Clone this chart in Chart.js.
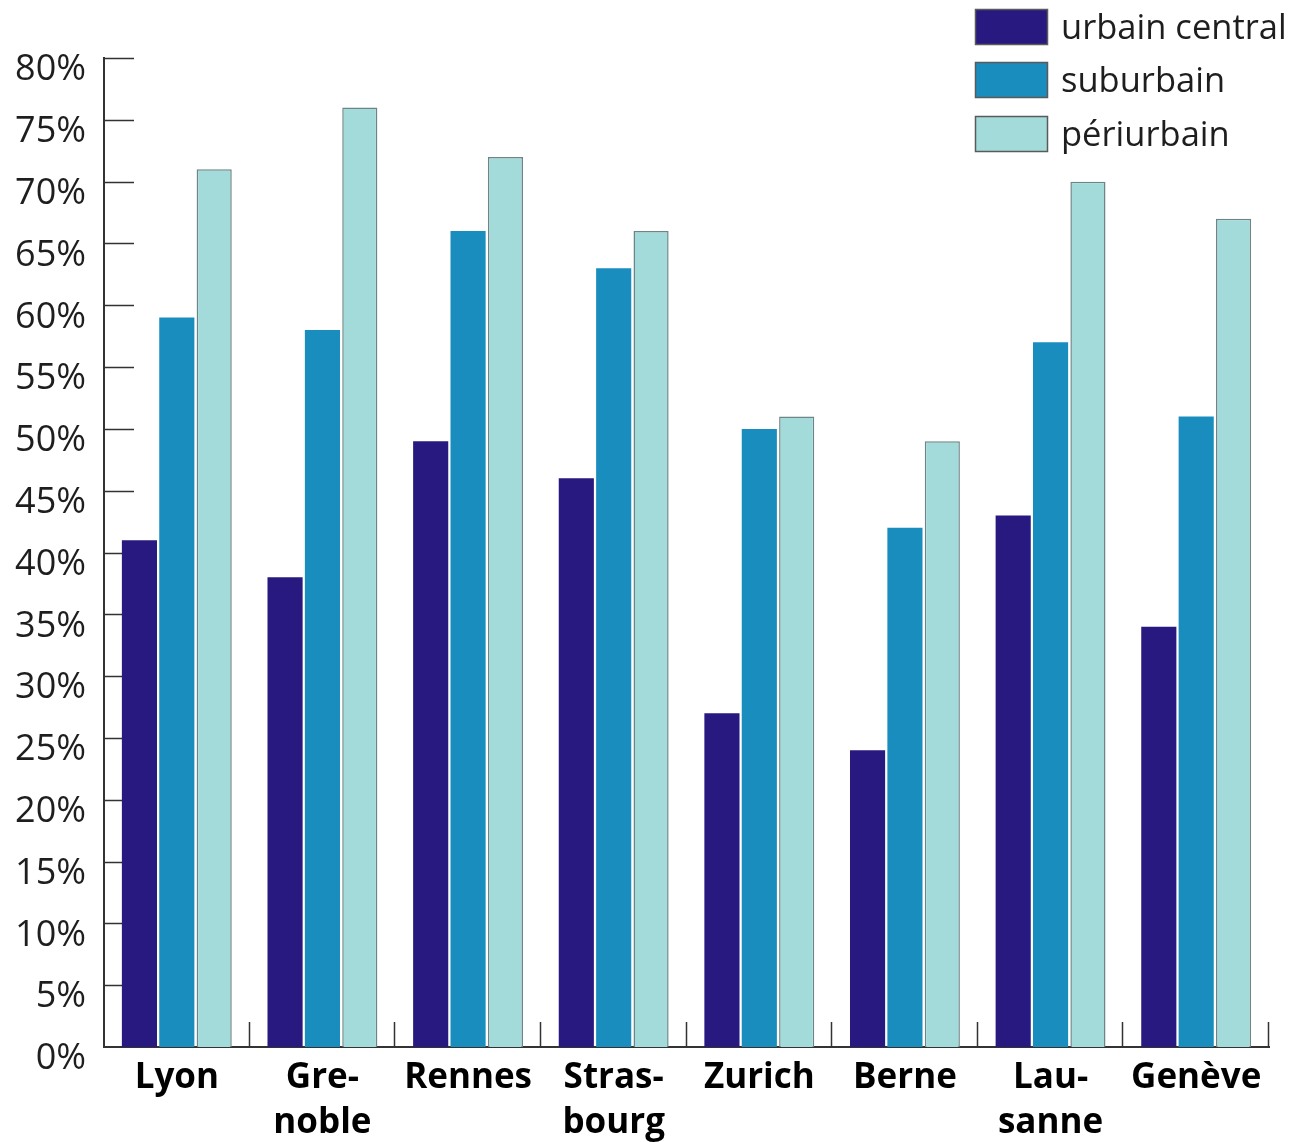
<!DOCTYPE html>
<html>
<head>
<meta charset="utf-8">
<style>
  html, body { margin: 0; padding: 0; background: #ffffff; }
  #wrap { width: 1295px; height: 1142px; }
</style>
<script src="https://cdn.jsdelivr.net/npm/chart.js@4/dist/chart.umd.min.js"></script>
</head>
<body>
<div id="wrap"><canvas id="c" width="1295" height="1142"></canvas></div>
<script>
// Share of residents per area type, by agglomeration
const cities = [["Lyon"], ["Gre-", "noble"], ["Rennes"], ["Stras-", "bourg"], ["Zurich"], ["Berne"], ["Lau-", "sanne"], ["Genève"]];
const seriesNames = ["urbain central", "suburbain", "périurbain"];
const urbainCentral = [41, 38, 49, 46, 27, 24, 43, 34];
const suburbain = [59, 58, 66, 63, 50, 42, 57, 51];
const periurbain = [71, 76, 72, 66, 51, 49, 70, 67];
const yTicks = [0, 5, 10, 15, 20, 25, 30, 35, 40, 45, 50, 55, 60, 65, 70, 75, 80];

const colors = ["#27197f", "#1a8dbf", "#a3dbdb"];
const borders = ["#27197f", "#1a8dbf", "#6e8588"];
const axisColor = "#333333";

// Inward tick marks on both axes
const axisMarks = {
  id: "axisMarks",
  beforeDatasetsDraw(chart) {
    const ctx = chart.ctx;
    const x = chart.scales.x, y = chart.scales.y;
    ctx.save();
    ctx.strokeStyle = axisColor;
    ctx.lineWidth = 1.5;
    ctx.beginPath();
    yTicks.forEach(v => {
      if (v === 0) return;
      const py = Math.round(y.getPixelForValue(v)) + 0.5;
      ctx.moveTo(x.left, py);
      ctx.lineTo(x.left + 30, py);
    });
    const step = (x.right - x.left) / cities.length;
    for (let i = 1; i <= cities.length; i++) {
      const px = Math.round(x.getPixelForValue(i - 1) + step / 2) - 0.5;
      ctx.moveTo(px, y.bottom);
      ctx.lineTo(px, y.bottom - 25);
    }
    ctx.stroke();
    ctx.restore();
  }
};

// Stacked legend in the top-right corner
const boxLegend = {
  id: "boxLegend",
  afterDraw(chart) {
    const ctx = chart.ctx;
    ctx.save();
    ctx.font = "34.5px 'Open Sans', sans-serif";
    ctx.textBaseline = "middle";
    const tops = [9, 62, 116];
    chart.data.datasets.forEach((ds, i) => {
      const bx = 975, by = tops[i], bw = 73, bh = 36;
      ctx.fillStyle = ds.backgroundColor;
      ctx.fillRect(bx, by, bw, bh);
      ctx.strokeStyle = "#5a5a5a";
      ctx.lineWidth = 1.5;
      ctx.strokeRect(bx + 0.5, by + 0.5, bw - 1, bh - 1);
      ctx.fillStyle = "#1e1e1e";
      ctx.fillText(ds.label, 1061, by + bh / 2 + 2);
    });
    ctx.restore();
  }
};

const seriesData = [urbainCentral, suburbain, periurbain];

new Chart(document.getElementById("c"), {
  type: "bar",
  data: {
    labels: cities,
    datasets: seriesNames.map((name, i) => ({
      label: name,
      data: seriesData[i],
      backgroundColor: colors[i],
      borderColor: borders[i],
      borderWidth: i === 2 ? 1.5 : 0,
      categoryPercentage: 0.77,
      barPercentage: 0.94
    }))
  },
  options: {
    responsive: false,
    animation: false,
    devicePixelRatio: 1,
    layout: { padding: { top: 58, right: 26, left: 0, bottom: 0 } },
    plugins: { legend: { display: false }, tooltip: { enabled: false } },
    scales: {
      x: {
        grid: { display: false, drawTicks: false },
        border: { display: true, color: axisColor, width: 2 },
        ticks: {
          color: "#000000",
          padding: 8,
          maxRotation: 0,
          autoSkip: false,
          font: { family: "'Open Sans', sans-serif", size: 35, weight: "bold", lineHeight: 1.3 }
        },
        afterFit(scale) { scale.height = 95; }
      },
      y: {
        min: 0,
        max: 80,
        afterBuildTicks(scale) { scale.ticks = yTicks.map(v => ({ value: v })); },
        grid: { display: false, drawTicks: false },
        border: { display: true, color: axisColor, width: 2 },
        ticks: {
          color: "#1e1e1e",
          padding: 18,
          labelOffset: 12,
          font: { family: "'Open Sans', sans-serif", size: 36 },
          callback: v => v + "%"
        },
        afterFit(scale) { scale.width = 104; }
      }
    }
  },
  plugins: [axisMarks, boxLegend]
});
</script>
</body>
</html>
